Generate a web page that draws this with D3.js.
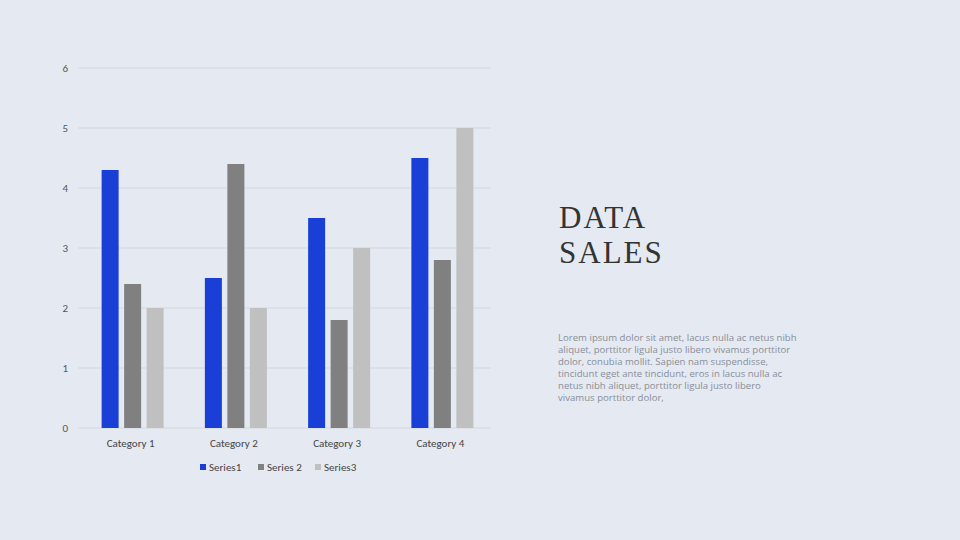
<!DOCTYPE html>
<html><head><meta charset="utf-8">
<script src="https://cdn.jsdelivr.net/npm/d3@7"></script>
<style>
body{margin:0;background:#e4e9f2;}
svg{display:block;font-family:Calibri,"Open Sans",sans-serif;}
</style></head>
<body><div id="chart"></div>
<script>
var categories = ["Category 1", "Category 2", "Category 3", "Category 4"];
var seriesNames = ["Series1", "Series 2", "Series3"];
var series1 = [4.3, 2.5, 3.5, 4.5];
var series2 = [2.4, 4.4, 1.8, 2.8];
var series3 = [2.0, 2.0, 3.0, 5.0];
var yTicks = [0, 1, 2, 3, 4, 5, 6];
var colors = ["#1a3fd6", "#808080", "#c0c0c0"];
var bodyLines = [
    "Lorem ipsum dolor sit amet, lacus nulla ac netus nibh",
    "aliquet, porttitor ligula justo libero vivamus porttitor",
    "dolor, conubia mollit. Sapien nam suspendisse,",
    "tincidunt eget ante tincidunt, eros in lacus nulla ac",
    "netus nibh aliquet, porttitor ligula justo libero",
    "vivamus porttitor dolor,"
];

var svg = d3.select("#chart").append("svg").attr("width", 960).attr("height", 540);
var allSeries = [series1, series2, series3];

var x = d3.scaleBand().domain(categories).range([78, 491]).paddingInner(0).paddingOuter(0);
var y = d3.scaleLinear().domain([0, 6]).range([428, 68]);

// gridlines
svg.selectAll(".grid").data(yTicks).enter().append("line")
    .attr("x1", 78).attr("x2", 491)
    .attr("y1", function(d){ return y(d); }).attr("y2", function(d){ return y(d); })
    .attr("stroke", "#d4d7dc").attr("stroke-width", 1);

svg.selectAll(".ylab").data(yTicks).enter().append("text")
    .attr("x", 68).attr("y", function(d){ return y(d) + 4; })
    .attr("text-anchor", "end").attr("font-size", 11).attr("fill", "#555")
    .text(function(d){ return d; });

var bw = 17, step = 22.5;
var groups = svg.selectAll(".cat").data(categories).enter().append("g")
    .attr("transform", function(d){ return "translate(" + (x(d) + x.bandwidth() / 2 + 3) + ",0)"; });

groups.each(function(c, ci) {
    var g = d3.select(this);
    allSeries.forEach(function(s, si) {
        g.append("rect")
            .attr("x", (si - 1) * step - bw / 2)
            .attr("y", y(s[ci]))
            .attr("width", bw)
            .attr("height", y(0) - y(s[ci]))
            .attr("fill", colors[si]);
    });
});

svg.selectAll(".xlab").data(categories).enter().append("text")
    .attr("x", function(d){ return x(d) + x.bandwidth() / 2 + 1; })
    .attr("y", 447).attr("text-anchor", "middle")
    .attr("font-size", 11).attr("fill", "#444").text(function(d){ return d; });

// legend
var legX = [200, 258, 315];
seriesNames.forEach(function(n, i) {
    svg.append("rect").attr("x", legX[i]).attr("y", 464).attr("width", 6).attr("height", 6).attr("fill", colors[i]);
    svg.append("text").attr("x", legX[i] + 9).attr("y", 471).attr("font-size", 11).attr("fill", "#444").text(n);
});

// title
["DATA", "SALES"].forEach(function(t, i) {
    svg.append("text").attr("x", 559).attr("y", 228 + i * 35)
        .attr("font-family", "Liberation Serif, serif")
        .attr("font-size", 31).attr("fill", "#333").attr("letter-spacing", 2).text(t);
});

svg.selectAll(".body").data(bodyLines).enter().append("text")
    .attr("x", 558).attr("y", function(d, i){ return 341 + i * 12; })
    .attr("font-family", "Open Sans, sans-serif")
    .attr("font-size", 9.6).attr("fill", "#8a8f98").text(function(d){ return d; });
</script>
</body></html>
